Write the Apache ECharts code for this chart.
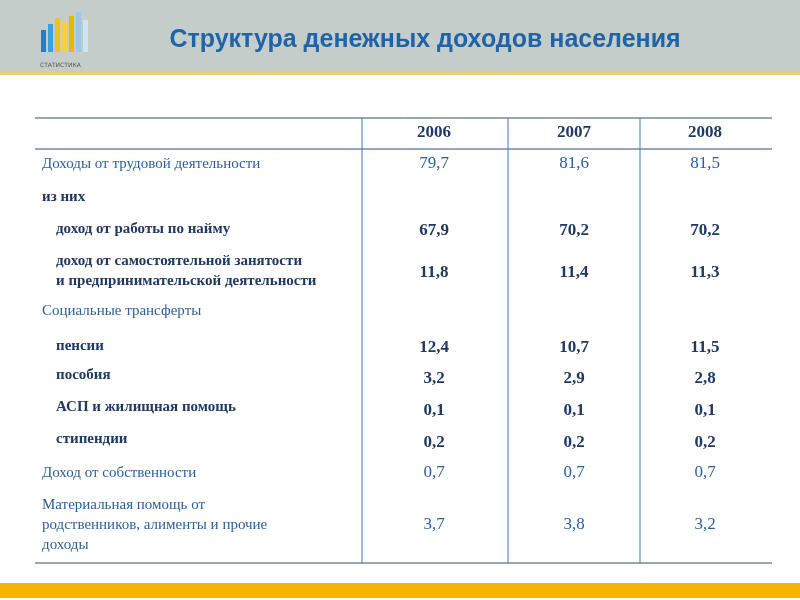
<!DOCTYPE html>
<html style="height: 100%;">
<head>
<meta charset="utf-8">
<title>Структура денежных доходов населения</title>
<script src="https://cdn.jsdelivr.net/npm/echarts@6/dist/echarts.min.js"></script>
</head>
<body style="height: 100%; margin: 0">
<div id="container" style="width:800px;height:600px"></div>
<script>
var years = ['2006', '2007', '2008'];
var rowLabels = [
  'Доходы от трудовой деятельности',
  'из них',
  '   доход от работы по найму',
  '   доход от самостоятельной занятости\nи предпринимательской деятельности',
  'Социальные трансферты',
  '   пенсии',
  '   пособия',
  '   АСП и жилищная помощь',
  '   стипендии',
  'Доход от собственности',
  'Материальная помощь от\nродственников, алименты и прочие\nдоходы'
];
var rowBold = [false, true, true, true, false, true, true, true, true, false, false];
var v2006 = ['79,7', '', '67,9', '11,8', '', '12,4', '3,2', '0,1', '0,2', '0,7', '3,7'];
var v2007 = ['81,6', '', '70,2', '11,4', '', '10,7', '2,9', '0,1', '0,2', '0,7', '3,8'];
var v2008 = ['81,5', '', '70,2', '11,3', '', '11,5', '2,8', '0,1', '0,2', '0,7', '3,2'];

var rowCenters = [164, 197, 229, 271, 311, 346, 377, 409, 441, 473, 525];
var labelOffsets = [0, 0, 0, 0, 0, 0, -2, -2, -2, 0, 0];
var colX = [434, 574, 705];
var blue = '#2a5f9e', navy = '#1f3864';

var g = [
  {type: 'rect', shape: {x: 0, y: 0, width: 800, height: 72}, style: {fill: '#c4cdca'}},
  {type: 'rect', shape: {x: 0, y: 72, width: 800, height: 3}, style: {fill: '#e8cf7a'}},
  {type: 'rect', shape: {x: 0, y: 583, width: 800, height: 15}, style: {fill: '#f5b400'}},
  {type: 'text', x: 425, y: 40, style: {text: 'Структура денежных доходов населения', font: 'bold 25px "Liberation Sans"', fill: '#1f64a8', align: 'center', verticalAlign: 'middle'}}
];
// logo bars
var logoColors = ['#1f7fc8', '#3aa0e0', '#f0c020', '#f5d040', '#e6b800', '#9ec8e8', '#cfe4f4'];
var logoH = [22, 28, 34, 30, 36, 40, 32];
logoColors.forEach(function (c, i) {
  g.push({type: 'rect', shape: {x: 41 + i * 7, y: 52 - logoH[i], width: 5, height: logoH[i]}, style: {fill: c}});
});
g.push({type: 'text', x: 40, y: 62, style: {text: 'СТАТИСТИКА', font: '6px "DejaVu Sans"', fill: '#555'}});

// grid lines
[118, 149, 563].forEach(function (y) {
  g.push({type: 'line', shape: {x1: 35, y1: y, x2: 772, y2: y}, style: {stroke: '#2f4f6f', lineWidth: 1}});
});
[362, 508, 640].forEach(function (x) {
  g.push({type: 'line', shape: {x1: x, y1: 118, x2: x, y2: 563}, style: {stroke: '#3a7bbf', lineWidth: 1}});
});
years.forEach(function (y, i) {
  g.push({type: 'text', x: colX[i], y: 133, style: {text: y, font: 'bold 17px "Liberation Serif"', fill: navy, align: 'center', verticalAlign: 'middle'}});
});
var vals = [v2006, v2007, v2008];
rowLabels.forEach(function (lab, r) {
  var bold = rowBold[r];
  var indent = lab.indexOf('   ') === 0;
  g.push({type: 'text', x: indent ? 56 : 42, y: rowCenters[r] + labelOffsets[r], style: {
    text: lab.replace(/^ {3}/, ''), font: (bold ? 'bold ' : '') + '15px "Liberation Serif"',
    fill: bold ? navy : blue, align: 'left', verticalAlign: 'middle', lineHeight: 20
  }});
  vals.forEach(function (arr, c) {
    if (!arr[r]) return;
    g.push({type: 'text', x: colX[c], y: rowCenters[r] + (bold ? 2 : 0), style: {
      text: arr[r], font: (bold ? 'bold ' : '') + '17px "Liberation Serif"',
      fill: bold ? navy : blue, align: 'center', verticalAlign: 'middle'
    }});
  });
});

var myChart = echarts.init(document.getElementById('container'));
myChart.setOption({backgroundColor: '#ffffff', graphic: g});
</script>
</body>
</html>
